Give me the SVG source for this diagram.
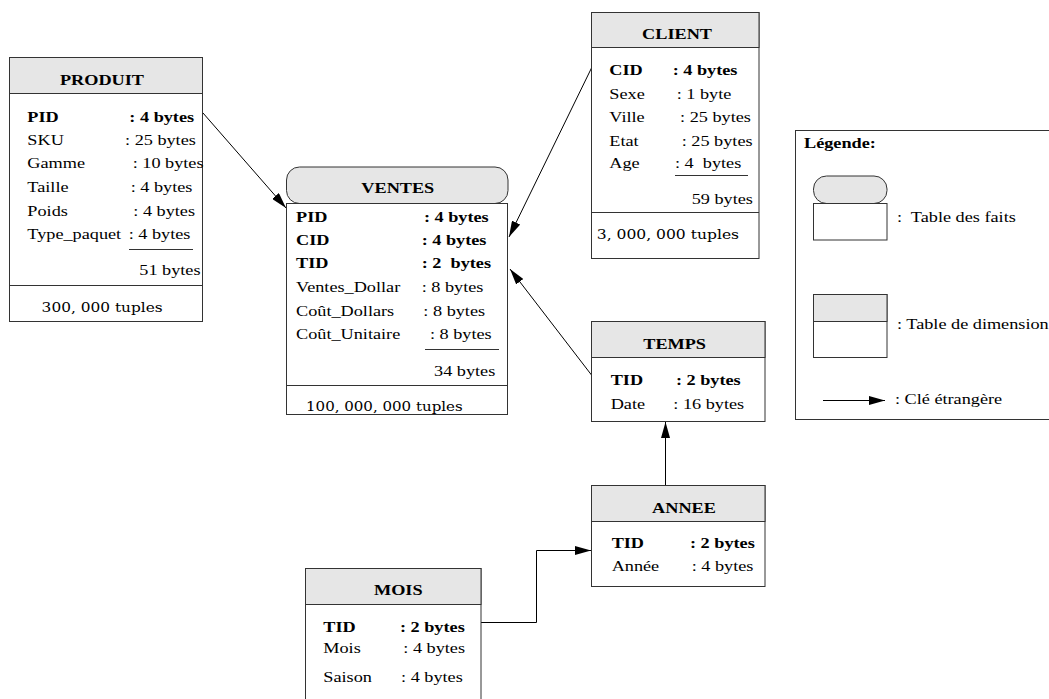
<svg xmlns="http://www.w3.org/2000/svg" width="1049" height="699" viewBox="0 0 1049 699">
  <style>
    .box { fill: #fff; stroke: #333; stroke-width: 1; }
    .head { fill: #e6e6e6; stroke: #333; stroke-width: 1; }
    .rule { stroke: #333; stroke-width: 1; fill: none; }
    .link { stroke: #000; stroke-width: 1; fill: none; marker-end: url(#arrow); }
    text { font-family: "Liberation Serif", "Times New Roman", serif; font-size: 15.2px; fill: #000; }
    .b { font-weight: bold; }
    .c { text-anchor: middle; }
    .pre { white-space: pre; }
    .tp { font-family: "DejaVu Serif", serif; font-size: 13.5px; }
  </style>
  <defs>
    <marker id="arrow" markerUnits="userSpaceOnUse" markerWidth="17" markerHeight="9" refX="16" refY="4.5" orient="auto">
      <path d="M0,0 L16,4.5 L0,9 z" fill="#000"/>
    </marker>
  </defs>
  <rect width="1049" height="699" fill="#fff"/>

  <!-- foreign-key connectors -->
  <g id="connectors">
    <path class="link" d="M203,113 L286,208"/>
    <path class="link" d="M591.5,68 L509,237"/>
    <path class="link" d="M591.5,375 L510,269"/>
    <path class="link" d="M665.5,485.5 L665.5,422"/>
    <path class="link" d="M481,622.5 H536.5 V550.5 H591" stroke="#333"/>
  </g>

  <!-- dimension table PRODUIT -->
  <g id="produit">
    <rect class="box" x="9.5" y="57.5" width="193" height="264"/>
    <rect class="head" x="9.5" y="57.5" width="193" height="36"/>
    <line class="rule" x1="9.5" y1="285.5" x2="202.5" y2="285.5"/>
    <line class="rule" x1="129" y1="249.5" x2="193" y2="249.5"/>
    <g transform="scale(1.2 1)">
      <text class="b c" x="85" y="85">PRODUIT</text>
      <text class="b" x="22.8" y="122">PID</text><text class="b" x="107.8" y="122">: 4 bytes</text>
      <text x="22.8" y="145">SKU</text><text x="104.2" y="145">: 25 bytes</text>
      <text x="22.8" y="168.3">Gamme</text><text x="110.6" y="168.3">: 10 bytes</text>
      <text x="22.8" y="192.3">Taille</text><text x="108.9" y="192.3">: 4 bytes</text>
      <text x="22.8" y="216">Poids</text><text x="111.1" y="216">: 4 bytes</text>
      <text x="22.8" y="239.3">Type_paquet</text><text x="107.2" y="239.3">: 4 bytes</text>
      <text x="116.1" y="275">51 bytes</text>
      <text class="tp" x="34.7" y="311.7" textLength="100.9" lengthAdjust="spacingAndGlyphs">300, 000 tuples</text>
    </g>
  </g>

  <!-- fact table VENTES -->
  <g id="ventes">
    <rect class="head" x="286.5" y="167" width="221.5" height="36.5" rx="13" ry="13"/>
    <rect class="box" x="286.5" y="203.5" width="221" height="211"/>
    <line class="rule" x1="286.5" y1="385.5" x2="507.5" y2="385.5"/>
    <line class="rule" x1="425" y1="349.5" x2="499" y2="349.5"/>
    <g transform="scale(1.2 1)">
      <text class="b c" x="331.5" y="193">VENTES</text>
      <text class="b" x="246.7" y="222">PID</text><text class="b" x="353.3" y="222">: 4 bytes</text>
      <text class="b" x="246.7" y="245">CID</text><text class="b" x="351.4" y="245">: 4 bytes</text>
      <text class="b" x="246.7" y="268">TID</text><text class="b pre" x="351.4" y="268">: 2  bytes</text>
      <text x="246.7" y="291.7">Ventes_Dollar</text><text x="351.4" y="291.7">: 8 bytes</text>
      <text x="246.7" y="315.7">Coût_Dollars</text><text x="352.8" y="315.7">: 8 bytes</text>
      <text x="246.7" y="339">Coût_Unitaire</text><text x="358.3" y="339">: 8 bytes</text>
      <text x="361.7" y="376">34 bytes</text>
      <text class="tp" x="255" y="410.7" textLength="130.6" lengthAdjust="spacingAndGlyphs">100, 000, 000 tuples</text>
    </g>
  </g>

  <!-- dimension table CLIENT -->
  <g id="client">
    <rect class="box" x="591.5" y="12.5" width="167.5" height="246"/>
    <rect class="head" x="591.5" y="12.5" width="167.5" height="35"/>
    <line class="rule" x1="591.5" y1="212.5" x2="759" y2="212.5"/>
    <line class="rule" x1="675" y1="175.5" x2="748" y2="175.5"/>
    <g transform="scale(1.2 1)">
      <text class="b c" x="564.2" y="39">CLIENT</text>
      <text class="b" x="507.8" y="75">CID</text><text class="b" x="560.6" y="75">: 4 bytes</text>
      <text x="507.8" y="99">Sexe</text><text x="563.9" y="99">: 1 byte</text>
      <text x="507.8" y="122.3">Ville</text><text x="566.7" y="122.3">: 25 bytes</text>
      <text x="507.8" y="146">Etat</text><text x="568.1" y="146">: 25 bytes</text>
      <text x="507.8" y="168.3">Age</text><text class="pre" x="562.5" y="168.3">: 4  bytes</text>
      <text x="576.4" y="204">59 bytes</text>
      <text class="tp" x="497.3" y="239.3" textLength="118.6" lengthAdjust="spacingAndGlyphs">3, 000, 000 tuples</text>
    </g>
  </g>

  <!-- dimension table TEMPS -->
  <g id="temps">
    <rect class="box" x="591.5" y="321.5" width="173.5" height="100"/>
    <rect class="head" x="591.5" y="321.5" width="173.5" height="36"/>
    <g transform="scale(1.2 1)">
      <text class="b c" x="562.2" y="349">TEMPS</text>
      <text class="b" x="508.9" y="385">TID</text><text class="b" x="563.3" y="385">: 2 bytes</text>
      <text x="508.9" y="409">Date</text><text x="561.1" y="409">: 16 bytes</text>
    </g>
  </g>

  <!-- dimension table ANNEE -->
  <g id="annee">
    <rect class="box" x="591.5" y="485.5" width="173.5" height="101"/>
    <rect class="head" x="591.5" y="485.5" width="173.5" height="36"/>
    <g transform="scale(1.2 1)">
      <text class="b c" x="570" y="513.3">ANNEE</text>
      <text class="b" x="509.7" y="547.7">TID</text><text class="b" x="575" y="547.7">: 2 bytes</text>
      <text x="509.7" y="570.7">Année</text><text x="576.4" y="570.7">: 4 bytes</text>
    </g>
  </g>

  <!-- dimension table MOIS -->
  <g id="mois">
    <rect class="box" x="305.5" y="568.5" width="175.5" height="140"/>
    <rect class="head" x="305.5" y="568.5" width="175.5" height="36"/>
    <g transform="scale(1.2 1)">
      <text class="b c" x="331.9" y="595">MOIS</text>
      <text class="b" x="269.4" y="631.7">TID</text><text class="b" x="333.3" y="631.7">: 2 bytes</text>
      <text x="269.4" y="653.3">Mois</text><text x="336.1" y="653.3">: 4 bytes</text>
      <text x="269.4" y="681.7">Saison</text><text x="334.2" y="681.7">: 4 bytes</text>
    </g>
  </g>

  <!-- legend -->
  <g id="legende">
    <rect class="box" x="795.5" y="130.5" width="300" height="289"/>
    <rect class="head" x="813.5" y="176" width="73.5" height="27.5" rx="13" ry="13"/>
    <rect class="box" x="813.5" y="203.5" width="73.5" height="36.5"/>
    <rect class="box" x="813.5" y="294.5" width="73.5" height="63"/>
    <rect class="head" x="813.5" y="294.5" width="73.5" height="27"/>
    <path class="link" d="M823,400.5 H885" stroke="#333"/>
    <g transform="scale(1.2 1)">
      <text class="b" x="670" y="148">Légende:</text>
      <text class="pre" x="747.5" y="221.7">:  Table des faits</text>
      <text x="747.5" y="329">: Table de dimension</text>
      <text x="745.8" y="404">: Clé étrangère</text>
    </g>
  </g>
</svg>
